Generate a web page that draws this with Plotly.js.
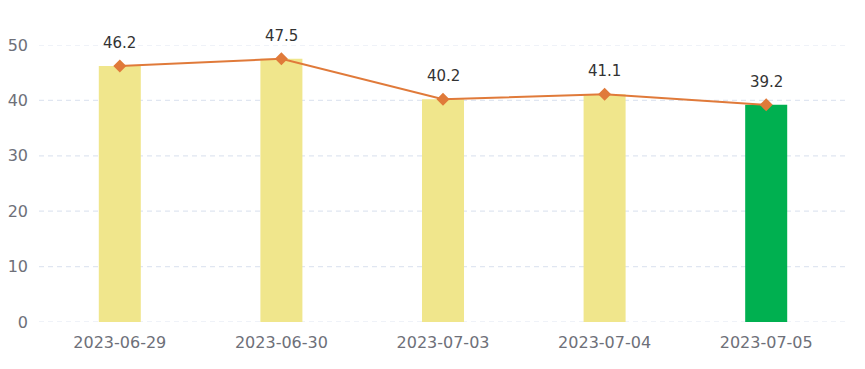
<!DOCTYPE html>
<html><head><meta charset="utf-8">
<script src="https://cdn.plot.ly/plotly-3.0.1.min.js"></script>
<style>html,body{margin:0;padding:0;background:#fff}#chart{width:865px;height:369px}</style>
</head><body><div id="chart"></div>
<script>
const categories = ['2023-06-29','2023-06-30','2023-07-03','2023-07-04','2023-07-05'];
const values = [46.2, 47.5, 40.2, 41.1, 39.2];
const barColors = ['#f0e68c','#f0e68c','#f0e68c','#f0e68c','#00b050'];
const yTicks = [0,10,20,30,40,50];

const FONT = 'DejaVu Sans, sans-serif';
const bar = {type:'bar', x:categories, y:values, marker:{color:barColors}, hoverinfo:'skip', showlegend:false};
const line = {type:'scatter', mode:'lines+markers', x:categories, y:values,
  line:{color:'#e07a3a', width:2}, marker:{symbol:'diamond', size:10, color:'#e07a3a'}, showlegend:false, cliponaxis:false};
const annotations = categories.map((c,i)=>({x:c, y:values[i], text:values[i].toFixed(1), showarrow:false,
  yanchor:'middle', yshift:23, font:{family:FONT, size:15, color:'#333'}}));
const gridShapes = yTicks.map(t=>({type:'line', xref:'paper', yref:'y', x0:0, x1:1, y0:t, y1:t, layer:'below',
  line:{color:'#e0e6f1', width:1.2, dash:'5px,4px'}}));

Plotly.newPlot('chart',[bar,line],{
  width:865, height:369,
  margin:{l:39,r:18,t:45,b:47},
  paper_bgcolor:'#fff', plot_bgcolor:'#fff',
  bargap:0.74,
  font:{family:FONT, size:16, color:'#6e7079'},
  xaxis:{type:'category', showgrid:false, zeroline:false, showline:false, ticks:'', tickfont:{size:16,color:'#6e7079'}, ticklabelstandoff:9},
  yaxis:{range:[0,50], tickvals:yTicks, showgrid:false,
    zeroline:false, showline:false, ticks:'', tickfont:{size:16,color:'#6e7079'}, ticklabelstandoff:10},
  shapes:gridShapes,
  annotations:annotations
},{staticPlot:true});
</script></body></html>
